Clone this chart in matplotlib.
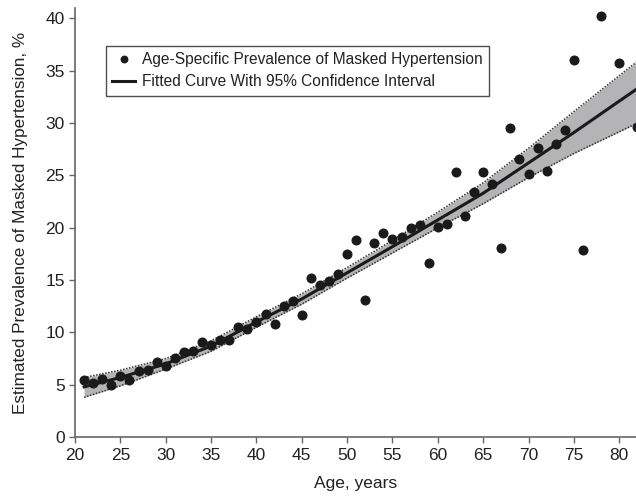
import matplotlib
matplotlib.use("Agg")
import matplotlib.pyplot as plt

plt.rcParams['font.family'] = ['Liberation Sans', 'DejaVu Sans']

# observed age-specific prevalence (%)
ages = list(range(21, 77)) + [78, 80, 82]
prev = [5.5, 5.2, 5.6, 5.0, 5.8, 5.5, 6.3, 6.4, 7.2, 6.8,
        7.6, 8.1, 8.2, 9.1, 8.8, 9.3, 9.3, 10.5, 10.3, 11.0,
        11.8, 10.8, 12.5, 13.0, 11.7, 15.2, 14.5, 14.9, 15.6, 17.5,
        18.8, 13.1, 18.5, 19.5, 18.9, 19.1, 20.0, 20.3, 16.6, 20.1,
        20.4, 25.3, 21.1, 23.4, 25.3, 24.2, 18.1, 29.5, 26.6, 25.1,
        27.6, 25.4, 28.0, 29.3, 36.0, 17.9, 40.2, 35.7, 29.6]

# fitted curve with 95% CI
fit_age = [21, 25, 30, 35, 40, 45, 50, 55, 60, 65, 70, 75, 82]
fit_val = [4.8, 5.7, 7.0, 8.7, 11.0, 13.2, 15.7, 18.2, 20.75, 23.3, 26.2, 29.1, 33.3]
fit_lo = [3.8, 4.9, 6.5, 8.2, 10.5, 12.7, 15.2, 17.6, 20.0, 22.3, 24.8, 27.1, 30.0]
fit_hi = [5.7, 6.4, 7.5, 9.2, 11.5, 13.7, 16.2, 18.8, 21.5, 24.3, 27.6, 31.1, 35.9]

fig = plt.figure(figsize=(6.36, 4.99), dpi=100)
ax = fig.add_axes([0.118, 0.124, 0.882, 0.86])

ax.fill_between(fit_age, fit_lo, fit_hi, color='#b4b4b6', lw=0, zorder=1)
ax.plot(fit_age, fit_lo, color='#333333', ls=(0, (1, 1)), lw=1.1, zorder=2)
ax.plot(fit_age, fit_hi, color='#333333', ls=(0, (1, 1)), lw=1.1, zorder=2)
ax.plot(fit_age, fit_val, color='#1a1a1a', lw=2.2, zorder=3,
        label='Fitted Curve With 95% Confidence Interval')
ax.plot(ages, prev, 'o', color='#1a1a1a', ms=6.2, zorder=4,
        label='Age-Specific Prevalence of Masked Hypertension')

ax.set_xlim(20, 81.85)
ax.set_ylim(0, 41)
ax.set_xticks(range(20, 81, 5))
ax.set_yticks(range(0, 41, 5))
for s in ['top', 'right']:
    ax.spines[s].set_visible(False)
for s in ['left', 'bottom']:
    ax.spines[s].set_color('#666666')
    ax.spines[s].set_linewidth(1.2)
ax.tick_params(direction='out', length=4, width=1, color='#666666',
               labelsize=12.5, labelcolor='#222222')

ax.set_xlabel('Age, years', fontsize=12.5, color='#222222', labelpad=10)
ax.set_ylabel('Estimated Prevalence of Masked Hypertension, %', fontsize=12.3,
              color='#222222', labelpad=12)

h, l = ax.get_legend_handles_labels()
leg = ax.legend(h[::-1], l[::-1], loc='upper left', bbox_to_anchor=(0.055, 0.911),
                borderaxespad=0, fontsize=11.2, frameon=True, fancybox=False,
                handlelength=1.5, markerscale=0.75, borderpad=0.4,
                labelspacing=0.45, handletextpad=0.45)
leg.get_frame().set_edgecolor('#222222')
leg.get_frame().set_linewidth(1.0)
for t in leg.get_texts():
    t.set_color('#222222')

fig.savefig('out.png', dpi=100)
